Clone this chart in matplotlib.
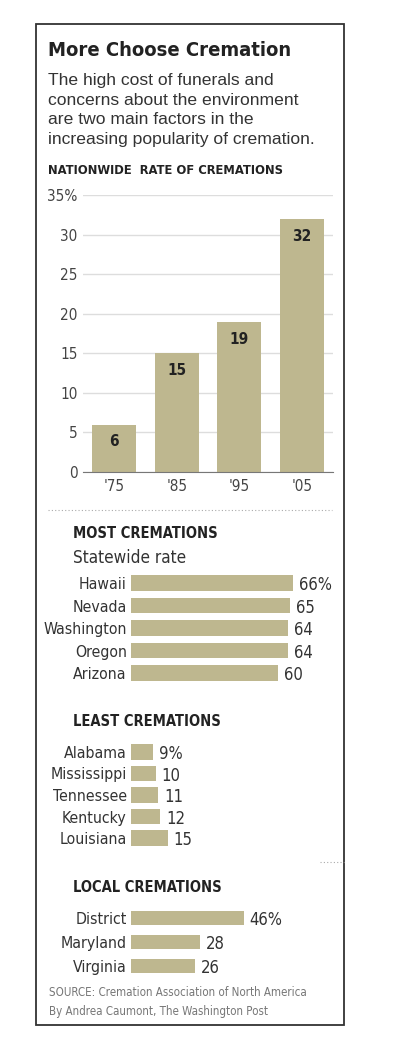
from matplotlib import pyplot as plt
from matplotlib.patches import Rectangle

# data
years = ["'75", "'85", "'95", "'05"]
nation_rates = [6, 15, 19, 32]

most_states = ["Hawaii", "Nevada", "Washington", "Oregon", "Arizona"]
most_rates = [66, 65, 64, 64, 60]

least_states = ["Alabama", "Mississippi", "Tennessee", "Kentucky", "Louisiana"]
least_rates = [9, 10, 11, 12, 15]

local_names = ["District", "Maryland", "Virginia"]
local_rates = [46, 28, 26]

W, H = 404, 1062
TAN = "#beb78f"
DARK = "#222222"
REG = ["Liberation Sans", "DejaVu Sans"]

plt.rcParams["font.family"] = ["DejaVu Sans"]
plt.rcParams["font.stretch"] = "condensed"

fig = plt.figure(figsize=(W / 100, H / 100), dpi=100)


def fx(x):
    return x / W


def fy(y):
    return 1 - y / H


def box(left, top, right, bottom):
    # figure fractions from pixel edges
    return [fx(left), fy(bottom), (right - left) / W, (bottom - top) / H]


# outer frame
fig.add_artist(Rectangle((fx(36), fy(1025)), (344 - 36) / W, (1025 - 24) / H,
                         transform=fig.transFigure, fill=False,
                         edgecolor="#333333", linewidth=1.3))

# heading text
fig.text(fx(48), fy(50), "More Choose Cremation", fontsize=14.5, fontweight="bold",
         color=DARK, va="center")
sub = ["The high cost of funerals and",
       "concerns about the environment",
       "are two main factors in the",
       "increasing popularity of cremation."]
for i, line in enumerate(sub):
    fig.text(fx(48), fy(81 + i * 19.5), line, fontsize=12.6, family=REG,
             fontstretch="normal", color="#333333", va="center")
fig.text(fx(48), fy(170), "NATIONWIDE  RATE OF CREMATIONS", fontsize=9.3,
         fontweight="bold", color=DARK, va="center")

# nationwide column chart
ax = fig.add_axes(box(83, 195, 333, 472))
ax.bar(range(len(years)), nation_rates, width=0.7, color=TAN, zorder=2)
ax.set_xlim(-0.5, 3.5)
ax.set_ylim(0, 35)
ticks = list(range(0, 36, 5))
ax.set_yticks(ticks)
ax.set_yticklabels([str(t) if t < 35 else "35%" for t in ticks])
ax.set_xticks(range(len(years)))
ax.set_xticklabels(years)
ax.tick_params(length=0, labelsize=11, colors="#444444")
ax.tick_params(axis="y", pad=4)
ax.tick_params(axis="x", pad=5)
for s in ["top", "right", "left"]:
    ax.spines[s].set_visible(False)
ax.spines["bottom"].set_color("#777777")
ax.grid(axis="y", color="#dddddd", linewidth=1, zorder=0)
for i, v in enumerate(nation_rates):
    ax.text(i, v - 2.2, str(v), ha="center", va="center", fontsize=11,
            fontweight="bold", color=DARK, zorder=3)

# dotted separator
fig.add_artist(plt.Line2D([fx(48), fx(332)], [fy(510), fy(510)],
                          transform=fig.transFigure, color="#aaaaaa",
                          linestyle=(0, (1, 2)), linewidth=0.8))


def hbars(top, bottom, names, vals, bar_h):
    n = len(names)
    ax_h = fig.add_axes(box(131, top, 376, bottom))
    ax_h.barh(range(n), vals, height=bar_h, color=TAN)
    ax_h.set_xlim(0, 100)
    ax_h.set_ylim(n - 0.5, -0.5)
    ax_h.set_yticks(range(n))
    ax_h.set_yticklabels(names)
    ax_h.set_xticks([])
    ax_h.tick_params(length=0, labelsize=11.3, colors="#333333", pad=3)
    for s in ax_h.spines.values():
        s.set_visible(False)
    ax_h.patch.set_alpha(0)
    for i, v in enumerate(vals):
        lab = f"{v}%" if i == 0 else str(v)
        ax_h.text(v + 2.4, i + 0.1, lab, va="center", fontsize=12,
                  color="#333333")
    return ax_h


# most cremations
fig.text(fx(73), fy(533), "MOST CREMATIONS", fontsize=10.5, fontweight="bold",
         color=DARK, va="center")
fig.text(fx(73), fy(558), "Statewide rate", fontsize=12.3, color="#333333",
         va="center")
hbars(583 - 11.25, 673 + 11.25, most_states, most_rates, 0.67)

# least cremations
fig.text(fx(73), fy(722), "LEAST CREMATIONS", fontsize=10.5, fontweight="bold",
         color=DARK, va="center")
hbars(752 - 10.75, 838 + 10.75, least_states, least_rates, 0.7)

fig.add_artist(plt.Line2D([fx(320), fx(344)], [fy(862), fy(862)],
                          transform=fig.transFigure, color="#aaaaaa",
                          linestyle=(0, (1, 2)), linewidth=0.8))

# local cremations
fig.text(fx(73), fy(888), "LOCAL CREMATIONS", fontsize=10.5, fontweight="bold",
         color=DARK, va="center")
hbars(918 - 12, 966 + 12, local_names, local_rates, 0.62)

# source
fig.text(fx(49), fy(993), "SOURCE: Cremation Association of North America",
         fontsize=8.3, color="#777777", va="center")
fig.text(fx(49), fy(1011), "By Andrea Caumont, The Washington Post",
         fontsize=8.3, color="#777777", va="center")

plt.savefig("out.png", dpi=100)
